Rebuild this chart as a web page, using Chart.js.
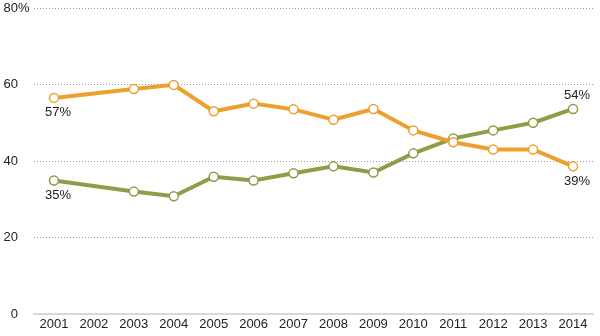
<!DOCTYPE html>
<html>
<head>
<meta charset="utf-8">
<script src="https://cdn.jsdelivr.net/npm/chart.js@4/dist/chart.umd.min.js"></script>
<style>
  html, body { margin: 0; padding: 0; background: #fff; }
  #wrap { width: 600px; height: 336px; }
</style>
</head>
<body>
<div id="wrap"><canvas id="myChart"></canvas></div>
<script>
const years = ["2001", "2002", "2003", "2004", "2005", "2006", "2007", "2008", "2009", "2010", "2011", "2012", "2013", "2014"];
const orangeValues = [56.5, null, 58.8, 59.9, 53, 55, 53.5, 50.8, 53.6, 48, 44.9, 43, 43, 38.6];
const greenValues = [34.9, null, 32, 30.8, 35.9, 34.9, 36.8, 38.6, 37, 42, 45.9, 48, 50, 53.6];
const yTicks = [0, 20, 40, 60, 80];
// which points get a value label, and where
const orangeLabels = [{ i: 0, text: "57%", pos: "below" }, { i: 13, text: "39%", pos: "below" }];
const greenLabels = [{ i: 0, text: "35%", pos: "below" }, { i: 13, text: "54%", pos: "above" }];

const orange = "#EEA02F";
const green = "#8D9E48";
const font = "13px 'Liberation Sans', Arial, sans-serif";

const pointLabels = {
  id: "pointLabels",
  afterDatasetsDraw(chart) {
    const ctx = chart.ctx;
    const x = chart.scales.x;
    const y = chart.scales.y;
    ctx.save();
    ctx.font = font;
    ctx.fillStyle = "#222";
    ctx.textAlign = "center";
    ctx.textBaseline = "middle";
    const put = (labels, values) => {
      labels.forEach(l => {
        const px = x.getPixelForValue(l.i);
        const py = y.getPixelForValue(values[l.i]);
        ctx.fillText(l.text, px + 4, l.pos === "below" ? py + 15 : py - 14);
      });
    };
    put(orangeLabels, orangeValues);
    put(greenLabels, greenValues);

    // y tick labels: numbers right aligned, the % sign hangs to the right
    yTicks.forEach(v => {
      const py = y.getPixelForValue(v);
      ctx.textAlign = "right";
      ctx.fillText(String(v), 18, py);
      if (v === 80) {
        ctx.textAlign = "left";
        ctx.fillText("%", 18, py);
      }
    });
    ctx.restore();
  }
};

var ctx = document.getElementById("myChart").getContext("2d");
var chart = new Chart(ctx, {
  type: "line",
  data: {
    labels: years,
    datasets: [
      {
        label: "orange",
        data: orangeValues,
        borderColor: orange,
        backgroundColor: "#fff",
        borderWidth: 4,
        pointRadius: 4.5,
        pointBorderWidth: 1.5,
        pointBackgroundColor: "#fff",
        pointBorderColor: orange,
        spanGaps: true,
        tension: 0
      },
      {
        label: "green",
        data: greenValues,
        borderColor: green,
        backgroundColor: "#fff",
        borderWidth: 4,
        pointRadius: 4.5,
        pointBorderWidth: 1.5,
        pointBackgroundColor: "#fff",
        pointBorderColor: green,
        spanGaps: true,
        tension: 0
      }
    ]
  },
  options: {
    responsive: true,
    maintainAspectRatio: false,
    animation: false,
    layout: { padding: { left: 4, right: 7, top: 8, bottom: 0 } },
    plugins: { legend: { display: false }, tooltip: { enabled: false } },
    scales: {
      x: {
        offset: true,
        afterFit: s => { s.height = 22; },
        grid: { display: false, drawTicks: false },
        border: { display: true, color: "#d9d9d9", width: 2 },
        ticks: {
          color: "#222",
          font: { family: "'Liberation Sans', Arial, sans-serif", size: 13 },
          padding: 3,
          maxRotation: 0,
          autoSkip: false
        }
      },
      y: {
        min: 0,
        max: 80,
        afterFit: s => { s.width = 30; },
        afterBuildTicks: s => { s.ticks = yTicks.map(v => ({ value: v })); },
        border: { display: false, dash: [1, 2] },
        grid: {
          color: c => (c.tick && c.tick.value === 0 ? "rgba(0,0,0,0)" : "#999"),
          lineWidth: 1,
          drawTicks: false
        },
        ticks: { display: false }
      }
    }
  },
  plugins: [pointLabels]
});
</script>
</body>
</html>
